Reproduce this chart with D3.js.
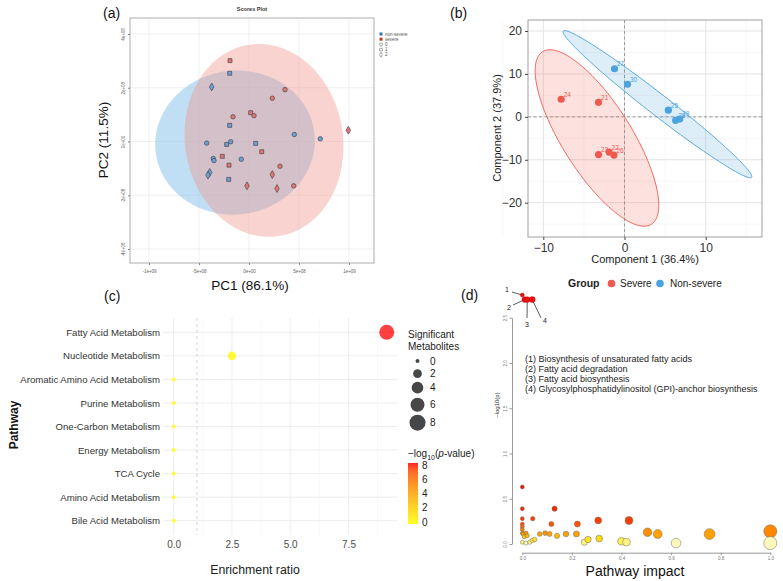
<!DOCTYPE html>
<html><head><meta charset="utf-8">
<script src="https://cdn.jsdelivr.net/npm/d3@7/dist/d3.min.js"></script>
<style>
body{margin:0;background:#fff;}
svg{font-family:"Liberation Sans",Arial,sans-serif;}
</style></head>
<body><svg id="chart" width="783" height="581"></svg>
<script>
// ---------- Panel (a) data: PCA scores ----------
const pcaX_ticks = [-1e9,-5e8,0,5e8,1e9];
const pcaX_tickLabels = ["-1e+09","-5e+08","0e+00","5e+08","1e+09"];
const pcaY_ticks = [-4e8,-2e8,0,2e8,4e8];
const pcaY_tickLabels = ["-4e+08","-2e+08","0e+00","2e+08","4e+08"];
const severePC1 = [-1.9e8,3.6e8,2.33e8,0.17e8,0.5e8,-1.6e8,9.93e8,1.27e8,-2.67e8,-2.0e8,3.1e8,2.33e8,-0.2e8,2.8e8,4.47e8];
const severePC2 = [3.01e8,1.93e8,1.61e8,1.07e8,0.96e8,0.92e8,0.42e8,-0.38e8,-0.55e8,-0.88e8,-0.92e8,-1.23e8,-1.65e8,-1.75e8,-1.65e8];
const severeShape = [1,0,0,1,0,0,2,1,1,1,0,2,2,2,0];
const nonSeverePC1 = [-1.93e8,-3.73e8,-1.93e8,4.53e8,7.13e8,-4.23e8,-2.23e8,-1.83e8,0.67e8,-3.57e8,-3.5e8,-0.77e8,-3.93e8,-4.1e8,-2.03e8];
const nonSeverePC2 = [2.54e8,2.03e8,0.6e8,0.26e8,0.1e8,-0.06e8,-0.11e8,-0.01e8,-0.07e8,-0.63e8,-0.71e8,-0.66e8,-1.15e8,-1.25e8,-1.41e8];
const nonSevereShape = [1,2,1,0,0,0,1,0,1,0,0,0,2,2,1];
// ellipse: center, half-axis vector u, half-axis vector v (data units)
const pcaEllipseNonSevere = {c:[-1.4e8,-0.04e8], u:[7.92e8,0.41e8], v:[1.0e8,-2.65e8]};
const pcaEllipseSevere = {c:[1.5e8,0.04e8], u:[7.8e8,0.46e8], v:[1.52e8,-3.56e8]};
const pcaLegend = ["non-severe","severe","0","1","2"];

// ---------- Panel (b) data: PLS-DA ----------
const plsTicksX = [-10,0,10];
const plsTicksY = [-20,-10,0,10,20];
const severeIds = ["24","21","23","22","26"];
const severeC1 = [-7.8,-3.2,-3.2,-1.9,-1.3];
const severeC2 = [4.1,3.4,-8.8,-8.2,-8.9];
const nonSevereIds = ["27","30","25","28","29"];
const nonSevereC1 = [-1.23,0.37,5.4,6.3,6.8];
const nonSevereC2 = [11.2,7.6,1.55,-0.8,-0.5];
const plsEllipseSevere = {c:[-3.39,-4.92], u:[6.70,-20.1], v:[-3.61,-4.29]};
const plsEllipseNonSevere = {c:[4.06,2.95], u:[11.6,-17.05], v:[-0.79,-1.93]};

// ---------- Panel (c) data: enrichment ----------
const pathways = ["Fatty Acid Metabolism","Nucleotide Metabolism","Aromatic Amino Acid Metabolism","Purine Metabolism","One-Carbon Metabolism","Energy Metabolism","TCA Cycle","Amino Acid Metabolism","Bile Acid Metabolism"];
const enrichmentRatio = [9.14,2.5,0,0,0,0,0,0,0];
const sigMetabolites = [7,2,0,0,0,0,0,0,0];
const negLogP = [8.0,0.3,0,0,0,0,0,0,0];
const enrichTicks = [0,2.5,5,7.5];
const sizeLegendValues = [0,2,4,6,8];
const colorLegendValues = [0,2,4,6,8];

// ---------- Panel (d) data: pathway impact ----------
const impactTop = [0.0,0.01,0.02,0.04];
const logpTop = [2.75,2.70,2.70,2.70];
const topLabels = ["1","2","3","4"];
const topNames = ["(1) Biosynthesis of unsaturated fatty acids","(2) Fatty acid degradation","(3) Fatty acid biosynthesis","(4) Glycosylphosphatidylinositol (GPI)-anchor biosynthesis"];
const impact = [0,0,0,0,0,0,0,0.004,0.015,0.02,0.008,0,0.015,0.03,0.04,0.05,0.042,0.07,0.092,0.11,0.117,0.13,0.14,0.176,0.218,0.222,0.25,0.265,0.306,0.31,0.40,0.42,0.43,0.505,0.546,0.62,0.755,1.0,1.0];
const logp = [0.63,0.39,0.28,0.22,0.19,0.16,0.12,0.11,0.12,0.09,0.08,0.02,0.01,0.02,0.04,0.05,0.28,0.11,0.12,0.11,0.22,0.39,0.09,0.11,0.11,0.22,0.02,0.05,0.26,0.06,0.03,0.02,0.26,0.13,0.11,0.01,0.11,0.14,0.01];
const impactTicks = [0,0.2,0.4,0.6,0.8,1.0];
const logpTicks = [0,0.5,1.0,1.5,2.0,2.5];

const svg = d3.select("#chart");
const FONT = '"Liberation Sans",Arial,sans-serif';

function ellipsePath(e, sx, sy){
  const pts = d3.range(0,361,3).map(a=>{const t=a*Math.PI/180;
    return [sx(e.c[0]+Math.cos(t)*e.u[0]+Math.sin(t)*e.v[0]), sy(e.c[1]+Math.cos(t)*e.u[1]+Math.sin(t)*e.v[1])];});
  return d3.line()(pts)+"Z";
}

// =============== Panel (a) ===============
{
  const g = svg.append("g");
  const x = d3.scaleLinear().domain([-1e9,1e9]).range([149,349]);
  const y = d3.scaleLinear().domain([-4e8,4e8]).range([249,34]);
  const L=130,R=374,T=18,B=263;
  g.append("rect").attr("x",L).attr("y",T).attr("width",R-L).attr("height",B-T).attr("fill","#fff");
  pcaX_ticks.forEach(v=>g.append("line").attr("x1",x(v)).attr("x2",x(v)).attr("y1",T).attr("y2",B).attr("stroke","#e6e6e6").attr("stroke-width",0.6));
  pcaY_ticks.forEach(v=>g.append("line").attr("y1",y(v)).attr("y2",y(v)).attr("x1",L).attr("x2",R).attr("stroke","#e6e6e6").attr("stroke-width",0.6));
  g.append("path").attr("d",ellipsePath(pcaEllipseNonSevere,x,y)).attr("fill","rgb(140,196,236)").attr("fill-opacity",0.55);
  g.append("path").attr("d",ellipsePath(pcaEllipseSevere,x,y)).attr("fill","rgb(240,150,140)").attr("fill-opacity",0.42);
  g.append("rect").attr("x",L).attr("y",T).attr("width",R-L).attr("height",B-T).attr("fill","none").attr("stroke","#9a9a9a").attr("stroke-width",0.8);
  const sym = [d3.symbolCircle,d3.symbolSquare,d3.symbolDiamond];
  const sz = [16,16,18];
  function pts(X,Y,S,col){
    X.forEach((v,i)=>g.append("path").attr("d",d3.symbol().type(sym[S[i]]).size(sz[S[i]])())
      .attr("transform",`translate(${x(v)},${y(Y[i])})`).attr("fill",col).attr("stroke","#3a3a3a").attr("stroke-width",0.6));
  }
  pts(nonSeverePC1,nonSeverePC2,nonSevereShape,"#6d9fd2");
  pts(severePC1,severePC2,severeShape,"#de7676");
  const xa = g.append("g").attr("transform",`translate(0,${B})`).call(d3.axisBottom(x).tickValues(pcaX_ticks).tickFormat((d,i)=>pcaX_tickLabels[i]).tickSize(2).tickPadding(5));
  xa.select(".domain").remove();
  xa.selectAll("line").attr("stroke","#888");
  xa.selectAll("text").attr("font-size",4.5).attr("fill","#666").attr("font-family",FONT);
  const ya = g.append("g").attr("transform",`translate(${L},0)`).call(d3.axisLeft(y).tickValues(pcaY_ticks).tickFormat((d,i)=>pcaY_tickLabels[i]).tickSize(2).tickPadding(0));
  ya.select(".domain").remove();
  ya.selectAll("line").attr("stroke","#888");
  ya.selectAll(".tick text").attr("font-size",4.5).attr("fill","#666").attr("font-family",FONT)
    .attr("text-anchor","middle").attr("x",0).attr("y",0).attr("dy","0.35em").attr("transform","rotate(-90) translate(0,-7)");
  g.append("text").attr("x",252).attr("y",11).attr("text-anchor","middle").attr("font-size",5.5).attr("font-weight","bold").attr("fill","#333").text("Scores Plot");
  g.append("text").attr("x",250).attr("y",290).attr("text-anchor","middle").attr("font-size",13.5).attr("fill","#111").text("PC1 (86.1%)");
  g.append("text").attr("transform","translate(108,140) rotate(-90)").attr("text-anchor","middle").attr("font-size",13.5).attr("fill","#111").text("PC2 (11.5%)");
  g.append("text").attr("x",103).attr("y",18).attr("font-size",14).attr("fill","#111").text("(a)");
  // legend
  const lg = g.append("g").attr("font-size",4.5).attr("fill","#555");
  pcaLegend.forEach((t,i)=>{
    const yy = 34+i*5.2;
    if(i<2) lg.append("rect").attr("x",379.5).attr("y",yy-1.5).attr("width",3).attr("height",3).attr("fill",i==0?"#3a6fb0":"#c0392b");
    else lg.append("path").attr("d",d3.symbol().type(sym[i-2]).size(7)()).attr("transform",`translate(381,${yy})`).attr("fill","none").attr("stroke","#555").attr("stroke-width",0.5);
    lg.append("text").attr("x",385).attr("y",yy+1.5).text(t);
  });
}

// =============== Panel (b) ===============
{
  const g = svg.append("g");
  const x = d3.scaleLinear().domain([-10,10]).range([543.3,705.7]);
  const y = d3.scaleLinear().domain([-20,20]).range([202.7,31]);
  const L=528,R=762,T=20,B=237;
  [-15,-5,5,15].forEach(v=>g.append("line").attr("x1",x(v)).attr("x2",x(v)).attr("y1",T).attr("y2",B).attr("stroke","#f2f2f2").attr("stroke-width",0.6));
  [-25,-15,-5,5,15].forEach(v=>g.append("line").attr("y1",y(v)).attr("y2",y(v)).attr("x1",L).attr("x2",R).attr("stroke","#f2f2f2").attr("stroke-width",0.6));
  plsTicksX.forEach(v=>g.append("line").attr("x1",x(v)).attr("x2",x(v)).attr("y1",T).attr("y2",B).attr("stroke","#e3e3e3").attr("stroke-width",1));
  plsTicksY.forEach(v=>g.append("line").attr("y1",y(v)).attr("y2",y(v)).attr("x1",L).attr("x2",R).attr("stroke","#e3e3e3").attr("stroke-width",1));
  g.append("line").attr("x1",x(0)).attr("x2",x(0)).attr("y1",T).attr("y2",B).attr("stroke","#888").attr("stroke-dasharray","3,2.5").attr("stroke-width",0.8);
  g.append("line").attr("y1",y(0)).attr("y2",y(0)).attr("x1",L).attr("x2",R).attr("stroke","#888").attr("stroke-dasharray","3,2.5").attr("stroke-width",0.8);
  const RED="#ef5a50", BLUE="#4aa3df";
  g.append("path").attr("d",ellipsePath(plsEllipseSevere,x,y)).attr("fill","rgba(239,90,80,0.18)").attr("stroke",RED).attr("stroke-width",0.9);
  g.append("path").attr("d",ellipsePath(plsEllipseNonSevere,x,y)).attr("fill","rgba(74,163,223,0.18)").attr("stroke",BLUE).attr("stroke-width",0.9);
  function pts(X,Y,ids,col){
    X.forEach((v,i)=>{
      g.append("circle").attr("cx",x(v)).attr("cy",y(Y[i])).attr("r",3.6).attr("fill",col);
      g.append("text").attr("x",x(v)+2.5).attr("y",y(Y[i])-2.5).attr("font-size",6.5).attr("fill",col).text(ids[i]);
    });
  }
  pts(severeC1,severeC2,severeIds,RED);
  pts(nonSevereC1,nonSevereC2,nonSevereIds,BLUE);
  g.append("rect").attr("x",L).attr("y",T).attr("width",R-L).attr("height",B-T).attr("fill","none").attr("stroke","#a0a0a0").attr("stroke-width",1);
  const xa = g.append("g").attr("transform",`translate(0,${B})`).call(d3.axisBottom(x).tickValues(plsTicksX).tickSize(3).tickPadding(3));
  xa.select(".domain").remove(); xa.selectAll("line").attr("stroke","#444");
  xa.selectAll("text").attr("font-size",12).attr("fill","#333").attr("font-family",FONT);
  const ya = g.append("g").attr("transform",`translate(${L},0)`).call(d3.axisLeft(y).tickValues(plsTicksY).tickSize(3).tickPadding(3));
  ya.select(".domain").remove(); ya.selectAll("line").attr("stroke","#444");
  ya.selectAll("text").attr("font-size",12).attr("fill","#333").attr("font-family",FONT);
  g.append("text").attr("x",645).attr("y",263).attr("text-anchor","middle").attr("font-size",11).attr("fill","#222").text("Component 1 (36.4%)");
  g.append("text").attr("transform","translate(501,128) rotate(-90)").attr("text-anchor","middle").attr("font-size",11).attr("fill","#222").text("Component 2 (37.9%)");
  g.append("text").attr("x",450).attr("y",18).attr("font-size",14).attr("fill","#111").text("(b)");
  const lg=g.append("g").attr("font-size",10);
  lg.append("text").attr("x",568).attr("y",287).attr("font-weight","bold").attr("font-size",10.5).attr("fill","#222").text("Group");
  lg.append("circle").attr("cx",611.5).attr("cy",283.5).attr("r",3.8).attr("fill",RED);
  lg.append("text").attr("x",620).attr("y",287).attr("fill","#222").text("Severe");
  lg.append("circle").attr("cx",660).attr("cy",283.5).attr("r",3.8).attr("fill",BLUE);
  lg.append("text").attr("x",670).attr("y",287).attr("fill","#222").text("Non-severe");
}

// =============== Panel (c) ===============
{
  const g = svg.append("g");
  const x = d3.scaleLinear().domain([0,7.5]).range([173.7,348.5]);
  const y = d3.scalePoint().domain(pathways).range([332.3,520.7]);
  const L=x(-0.457),R=x(9.6),T=318,B=535;
  const minor=[1.25,3.75,6.25,8.75];
  minor.forEach(v=>g.append("line").attr("x1",x(v)).attr("x2",x(v)).attr("y1",T).attr("y2",B).attr("stroke","#f3f3f3").attr("stroke-width",0.6));
  enrichTicks.forEach(v=>g.append("line").attr("x1",x(v)).attr("x2",x(v)).attr("y1",T).attr("y2",B).attr("stroke","#ebebeb").attr("stroke-width",0.9));
  pathways.forEach(p=>g.append("line").attr("y1",y(p)).attr("y2",y(p)).attr("x1",L).attr("x2",R).attr("stroke","#ebebeb").attr("stroke-width",0.9));
  g.append("line").attr("x1",x(1)).attr("x2",x(1)).attr("y1",T).attr("y2",B).attr("stroke","#c8c8c8").attr("stroke-dasharray","3,3").attr("stroke-width",0.8);
  const rS = v=>Math.sqrt(4+7.5*v);
  const col = d3.scaleLinear().domain([0,8]).range(["#ffff00","#ff0000"]).interpolate(d3.interpolateLab);
  pathways.forEach((p,i)=>g.append("circle").attr("cx",x(enrichmentRatio[i])).attr("cy",y(p)).attr("r",rS(sigMetabolites[i])).attr("fill",col(negLogP[i])).attr("fill-opacity",0.75));
  const xa = g.append("g").attr("transform",`translate(0,${B})`).call(d3.axisBottom(x).tickValues(enrichTicks).tickFormat(d3.format(".1f")).tickSize(0).tickPadding(6));
  xa.select(".domain").remove();
  xa.selectAll("text").attr("font-size",10).attr("fill","#4d4d4d").attr("font-family",FONT);
  const ya = g.append("g").attr("transform",`translate(${L},0)`).call(d3.axisLeft(y).tickSize(0).tickPadding(3));
  ya.select(".domain").remove();
  ya.selectAll("text").attr("font-size",9.6).attr("fill","#333").attr("font-family",FONT);
  g.append("text").attr("x",255).attr("y",574).attr("text-anchor","middle").attr("font-size",12.3).attr("fill","#222").text("Enrichment ratio");
  g.append("text").attr("transform","translate(18,425) rotate(-90)").attr("text-anchor","middle").attr("font-size",12).attr("font-weight","bold").attr("fill","#111").text("Pathway");
  g.append("text").attr("x",104).attr("y",301).attr("font-size",14).attr("fill","#111").text("(c)");
  // size legend
  const lg=g.append("g").attr("font-size",10).attr("fill","#222");
  lg.append("text").attr("x",408).attr("y",338).text("Significant");
  lg.append("text").attr("x",408).attr("y",350).text("Metabolites");
  const ly=[361,373.7,387.7,404.7,422.7];
  sizeLegendValues.forEach((v,i)=>{
    lg.append("circle").attr("cx",417.5).attr("cy",ly[i]).attr("r",rS(v)).attr("fill","#333").attr("fill-opacity",0.9);
    lg.append("text").attr("x",430).attr("y",ly[i]+3.5).text(v);
  });
  // colour legend
  const t = lg.append("text").attr("x",408).attr("y",457);
  t.append("tspan").text("\u2212log");
  t.append("tspan").attr("font-size",7).attr("dy",2.5).text("10");
  t.append("tspan").attr("dy",-2.5).text("(");
  t.append("tspan").attr("font-style","italic").text("p");
  t.append("tspan").text("-value)");
  const defs = svg.append("defs");
  const grad = defs.append("linearGradient").attr("id","gc").attr("x1",0).attr("x2",0).attr("y1",1).attr("y2",0);
  d3.range(0,8.01,1).forEach(v=>grad.append("stop").attr("offset",v/8).attr("stop-color",col(v)));
  const cy = d3.scaleLinear().domain([0,8]).range([522,465]);
  lg.append("rect").attr("x",408).attr("y",cy(8)-2).attr("width",10).attr("height",cy(0)-cy(8)+4).attr("fill","url(#gc)").attr("opacity",0.85);
  colorLegendValues.forEach(v=>{
    lg.append("text").attr("x",422).attr("y",cy(v)+3.5).text(v);
  });
}

// =============== Panel (d) ===============
{
  const g = svg.append("g");
  const x = d3.scaleLinear().domain([0,1]).range([522.3,770.3]);
  const y = d3.scaleLinear().domain([0,2.5]).range([544,317.7]);
  const xa = g.append("g").attr("transform",`translate(0,552.7)`).call(d3.axisBottom(x).tickValues(impactTicks).tickFormat(d3.format(".1f")).tickSize(2.5).tickSizeOuter(0).tickPadding(2));
  xa.selectAll("path,line").attr("stroke","#999");
  xa.selectAll("text").attr("font-size",4.5).attr("fill","#777").attr("font-family",FONT);
  const ya = g.append("g").attr("transform",`translate(512,0)`).call(d3.axisLeft(y).tickValues(logpTicks).tickFormat(d3.format(".1f")).tickSize(2.5).tickSizeOuter(0).tickPadding(2));
  ya.selectAll("path,line").attr("stroke","#999");
  ya.selectAll(".tick text").attr("font-size",4.5).attr("fill","#777").attr("font-family",FONT)
    .attr("text-anchor","middle").attr("x",0).attr("dy",0).attr("transform","rotate(-90) translate(0,-5.5)");
  g.append("text").attr("transform","translate(499,405) rotate(-90)").attr("text-anchor","middle").attr("font-size",6).attr("fill","#333").text("\u2013log10(p)");
  g.append("text").attr("x",635).attr("y",576).attr("text-anchor","middle").attr("font-size",14).attr("fill","#111").text("Pathway impact");
  const col = d3.scaleLinear().domain([0,0.03,0.07,0.12,0.25,0.5]).range(["#fffff0","#fff050","#ffd400","#ff9400","#ff4000","#e81a00"]).clamp(true);
  const r = d3.scaleLinear().domain([0,1]).range([2,6.5]);
  const order = d3.range(impact.length).sort((a,b)=>impact[a]-impact[b]);
  order.forEach(i=>g.append("circle").attr("cx",x(impact[i])).attr("cy",y(logp[i])).attr("r",r(impact[i])).attr("fill",col(logp[i])).attr("stroke","#6b6b6b").attr("stroke-width",0.5));
  // top points with leader lines
  const lab = [[507,292],[509,310],[527,327],[545,323]];
  const lineEnd = [[512,292],[513,305],[527,318],[541,318]];
  impactTop.forEach((v,i)=>{
    g.append("line").attr("x1",x(v)).attr("y1",y(logpTop[i])).attr("x2",lineEnd[i][0]).attr("y2",lineEnd[i][1]).attr("stroke","#333").attr("stroke-width",0.8);
  });
  impactTop.forEach((v,i)=>{
    g.append("circle").attr("cx",x(v)).attr("cy",y(logpTop[i])).attr("r",i==0?2:r(v)+0.8).attr("fill","#ee1010").attr("stroke","#a00").attr("stroke-width",0.4);
    g.append("text").attr("x",lab[i][0]).attr("y",lab[i][1]).attr("text-anchor","middle").attr("font-size",7).attr("fill","#222").text(topLabels[i]);
  });
  topNames.forEach((t,i)=>g.append("text").attr("x",525).attr("y",362+i*10).attr("font-size",9).attr("fill","#222").text(t));
  g.append("text").attr("x",461).attr("y",300).attr("font-size",14).attr("fill","#111").text("(d)");
}
</script></body></html>
